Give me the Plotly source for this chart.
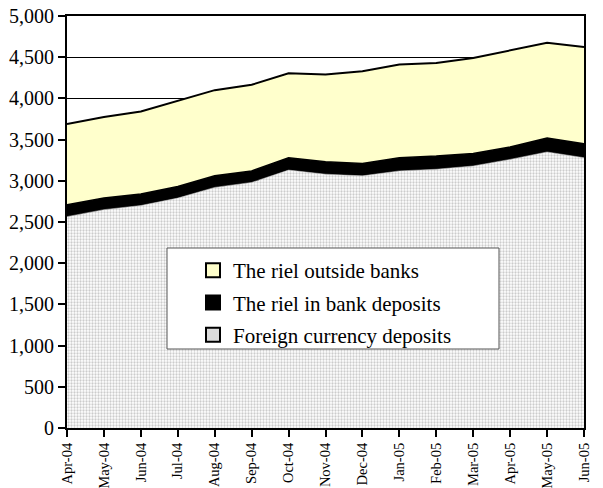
import plotly.graph_objects as go

months = ["Apr-04", "May-04", "Jun-04", "Jul-04", "Aug-04", "Sep-04", "Oct-04", "Nov-04",
          "Dec-04", "Jan-05", "Feb-05", "Mar-05", "Apr-05", "May-05", "Jun-05"]
foreign = [2565, 2650, 2700, 2790, 2920, 2980, 3130, 3080, 3060, 3120, 3140, 3180, 3260, 3350, 3280]
riel_deposits = [145, 140, 140, 140, 140, 140, 150, 150, 150, 160, 160, 150, 150, 170, 170]
riel_outside = [980, 985, 1000, 1040, 1040, 1045, 1025, 1060, 1120, 1130, 1130, 1160, 1170, 1155, 1175]

font_family = "Liberation Serif, Times New Roman, serif"

fig = go.Figure()
fig.add_trace(go.Scatter(
    x=months, y=foreign, name="Foreign currency deposits", stackgroup="s",
    mode="lines", line=dict(color="#c8c8c8", width=0.5), showlegend=False,
    fillpattern=dict(shape=".", bgcolor="#ffffff", fgcolor="#999999", size=3, solidity=0.45),
))
fig.add_trace(go.Scatter(
    x=months, y=riel_deposits, name="The riel in bank deposits", stackgroup="s",
    mode="lines", line=dict(color="#000000", width=1.5), fillcolor="#000000", showlegend=False,
))
fig.add_trace(go.Scatter(
    x=months, y=riel_outside, name="The riel outside banks", stackgroup="s",
    mode="lines", line=dict(color="#000000", width=2), fillcolor="#ffffcc", showlegend=False,
))

# legend entries (square swatches with black outline)
legend_items = [("The riel outside banks", "#ffffcc"),
                ("The riel in bank deposits", "#000000"),
                ("Foreign currency deposits", "#dcdcdc")]
for i, (name, col) in enumerate(legend_items):
    fig.add_trace(go.Scatter(
        x=[None], y=[None], mode="markers", name=name, legendgroup=f"g{i}",
        marker=dict(symbol="square", size=14, color=col, line=dict(color="black", width=2)),
    ))

fig.add_shape(type="rect", xref="paper", yref="paper",
              x0=(167 - 67) / 517, x1=(499 - 67) / 517,
              y0=(428 - 349) / 412, y1=(428 - 248) / 412,
              fillcolor="white", line=dict(color="#555555", width=1), layer="above")

fig.update_layout(
    width=603, height=488,
    margin=dict(l=67, r=19, t=16, b=60),
    paper_bgcolor="white", plot_bgcolor="white",
    font=dict(family=font_family, color="black", size=20),
    showlegend=True,
    legend=dict(
        x=(193 - 67) / 517, y=(428 - 250) / 412, xanchor="left", yanchor="top",
        bgcolor="rgba(0,0,0,0)", borderwidth=0,
        font=dict(size=21, family=font_family), traceorder="grouped",
        tracegroupgap=2,
    ),
)
fig.update_xaxes(
    type="category", range=[0, 14], showgrid=False, automargin=False,
    showline=True, linecolor="black", linewidth=2, mirror=True,
    ticks="outside", ticklen=7, tickcolor="black", tickwidth=1.5, tickangle=-90,
    tickfont=dict(size=14.5, family=font_family),
)
fig.update_yaxes(
    range=[0, 5000], dtick=500, tickformat=",", showgrid=True, automargin=False,
    gridcolor="black", gridwidth=1,
    showline=True, linecolor="black", linewidth=2, mirror=True,
    ticks="outside", ticklen=7, tickcolor="black", tickwidth=1.5,
    tickfont=dict(size=20, family=font_family), zeroline=False,
)

fig.write_html("out.html", config={"displayModeBar": False},
               post_script="document.body.style.margin='0';document.body.style.padding='0';")
